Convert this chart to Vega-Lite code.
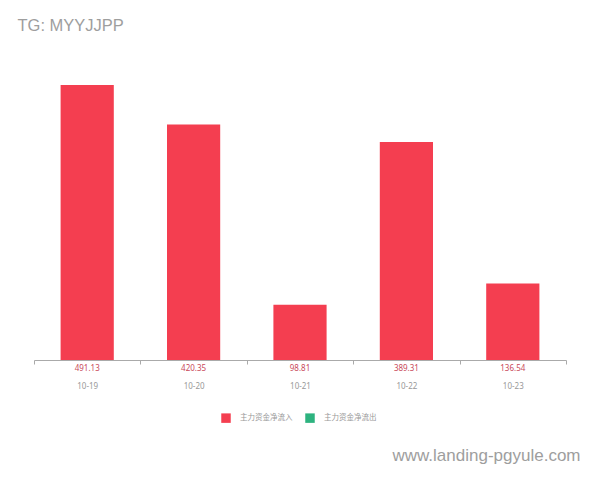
{
  "$schema": "https://vega.github.io/schema/vega-lite/v6.json",
  "autosize": "none",
  "width": 532,
  "height": 280,
  "padding": {"left": 34, "top": 80, "right": 34, "bottom": 120},
  "background": "white",
  "title": {
    "text": "TG: MYYJJPP",
    "anchor": "start",
    "dx": -16,
    "offset": 46,
    "fontSize": 16.5,
    "font": "Liberation Sans",
    "fontWeight": "normal",
    "color": "#9e9e9e"
  },
  "data": {
    "values": [
      {"date": "10-19", "value": 491.13, "type": "主力资金净流入"},
      {"date": "10-20", "value": 420.35, "type": "主力资金净流入"},
      {"date": "10-21", "value": 98.81, "type": "主力资金净流入"},
      {"date": "10-22", "value": 389.31, "type": "主力资金净流入"},
      {"date": "10-23", "value": 136.54, "type": "主力资金净流入"}
    ]
  },
  "encoding": {
    "x": {
      "field": "date",
      "type": "nominal",
      "scale": {"paddingInner": 0, "paddingOuter": 0},
      "axis": {
        "title": "www.landing-pgyule.com",
        "titleAnchor": "end",
        "titleBaseline": "middle",
        "titleY": 95,
        "titleX": 546,
        "titleColor": "#9e9e9e",
        "titleFont": "Liberation Sans",
        "titleFontSize": 17,
        "titleFontWeight": "normal",
        "labelAngle": 0,
        "labelPadding": 18,
        "labelColor": "#999999",
        "labelFontSize": 8,
        "labelFont": "Noto Sans",
        "domainColor": "#aaaaaa",
        "tickColor": "#aaaaaa",
        "tickSize": 4,
        "tickBand": "extent"
      }
    }
  },
  "layer": [
    {
      "mark": {"type": "bar", "color": "#f43e50", "width": {"band": 0.5}},
      "encoding": {
        "y": {
          "field": "value",
          "type": "quantitative",
          "scale": {"domain": [0, 500]},
          "axis": null
        },
        "color": {
          "field": "type",
          "type": "nominal",
          "scale": {"domain": ["主力资金净流入", "主力资金净流出"], "range": ["#f43e50", "#2db37f"]},
          "legend": {
            "title": null,
            "orient": "none",
            "legendX": 187,
            "legendY": 333,
            "direction": "horizontal",
            "symbolType": "square",
            "symbolSize": 90,
            "symbolStrokeWidth": 0,
            "labelFontSize": 7.5,
            "labelColor": "#999999",
            "labelFont": "Noto Sans CJK SC",
            "labelOffset": 9,
            "columnPadding": 12
          }
        }
      }
    },
    {
      "mark": {"type": "text", "baseline": "top", "dy": 5, "fontSize": 8, "font": "Noto Sans", "color": "#c94a5a"},
      "encoding": {
        "y": {"datum": 0, "type": "quantitative"},
        "text": {"field": "value", "type": "quantitative", "format": ".2f"}
      }
    }
  ],
  "config": {"view": {"stroke": null}}
}
